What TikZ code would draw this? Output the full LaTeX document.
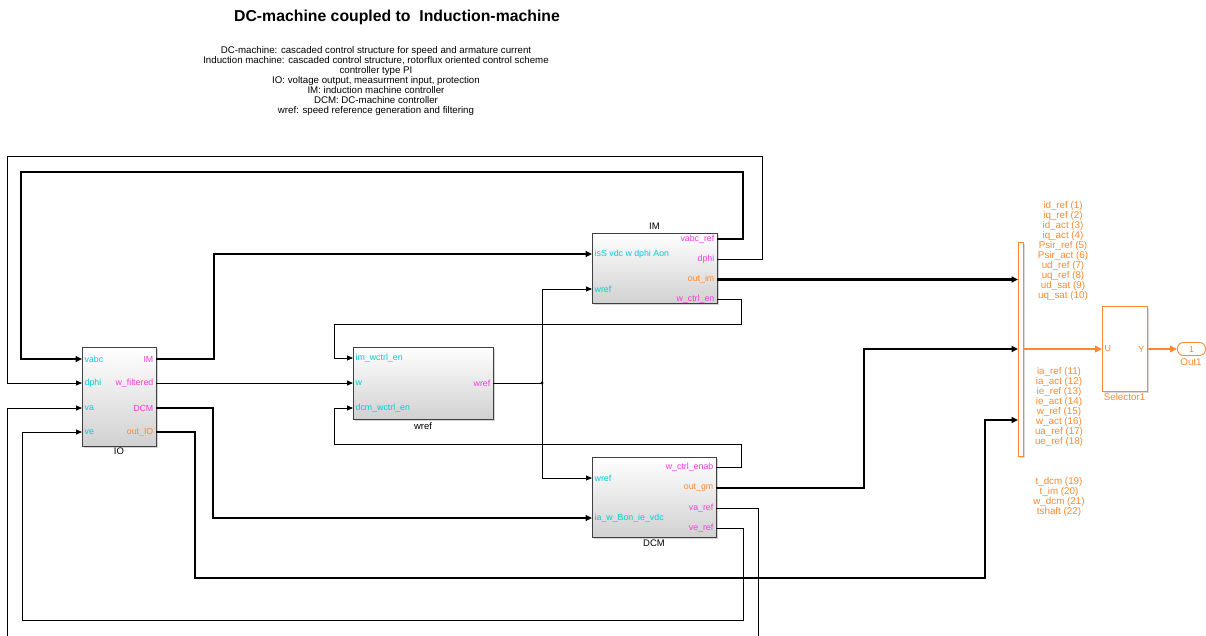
\documentclass[tikz,border=0pt]{standalone}
\usepackage{fontspec}
\setmainfont{Liberation Sans}
\usetikzlibrary{arrows.meta,shadows}
\definecolor{pcyan}{RGB}{0,205,215}
\definecolor{pmag}{RGB}{245,60,215}
\definecolor{porange}{RGB}{255,135,45}
\tikzset{
  blk/.style={draw=black!75, line width=0.9pt, top color=white, bottom color=black!18,
    drop shadow={shadow xshift=2pt, shadow yshift=-2pt, opacity=0.35},
    anchor=north west, inner sep=0pt, outer sep=0pt},
  oblk/.style={draw=porange, line width=0.9pt, fill=white,
    drop shadow={shadow xshift=2pt, shadow yshift=-2pt, opacity=0.3},
    anchor=north west, inner sep=0pt, outer sep=0pt},
  portfont/.style={font=\fontsize{8.8}{10}\selectfont, inner sep=2.5pt},
  inl/.style={portfont, text=pcyan, anchor=west},
  outl/.style={portfont, text=pmag, anchor=east},
  outo/.style={portfont, text=porange, anchor=east},
  blabel/.style={font=\fontsize{9.5}{10}\selectfont, anchor=north, inner sep=0pt},
  olabel/.style={font=\fontsize{9.8}{10}\selectfont, text=porange, anchor=north, inner sep=0pt, align=center},
  sig/.style={line width=0.8pt, -{Triangle[length=6pt,width=5pt]}},
  wire/.style={line width=0.8pt},
  bus/.style={line width=2.7pt, -{Triangle[length=6.5pt,width=6pt]}},
  obus/.style={line width=2.2pt, draw=porange, -{Triangle[length=7pt,width=6.5pt]}, color=porange},
}
\begin{document}
\begin{tikzpicture}[x=1pt,y=-1pt]
\useasboundingbox (0,0) rectangle (1206,636);
\clip (0,0) rectangle (1206,636);

% title and description
\node[font=\bfseries\fontsize{15.8}{17}\selectfont, inner sep=0pt] (title) at (397,17) {DC-machine coupled to\ \ Induction-machine};
\node[font=\fontsize{9.7}{10}\selectfont, align=center, anchor=north, inner sep=0pt] (desc) at (376,46) {DC-machine: cascaded control structure for speed and armature current\\
Induction machine: cascaded control structure, rotorflux oriented control scheme\\
controller type PI\\
IO: voltage output, measurment input, protection\\
IM: induction machine controller\\
DCM: DC-machine controller\\
wref: speed reference generation and filtering};

% blocks
\node[blk, minimum width=74pt, minimum height=99pt] (IO) at (82,347) {};
\node[blabel] (IOlab) at (119,448) {IO};
\node[blk, minimum width=140pt, minimum height=72pt] (WR) at (353,347) {};
\node[blabel] (WRlab) at (423,422) {wref};
\node[blk, minimum width=125pt, minimum height=70pt] (IM) at (592,233) {};
\node[blabel, anchor=south] (IMlab) at (654.5,230) {IM};
\node[blk, minimum width=124pt, minimum height=80pt] (DCM) at (592,457) {};
\node[blabel] (DCMlab) at (654,540) {DCM};

% ports IO
\coordinate (IOi1) at (82,359); \coordinate (IOi2) at (82,383);
\coordinate (IOi3) at (82,408); \coordinate (IOi4) at (82,432);
\coordinate (IOo1) at (156,359); \coordinate (IOo2) at (156,383);
\coordinate (IOo3) at (156,408); \coordinate (IOo4) at (156,432);
\node[inl] at (IOi1) {vabc}; \node[inl] at (IOi2) {dphi};
\node[inl] at (IOi3) {va}; \node[inl] at (IOi4) {ve};
\node[outl] at (IOo1) {IM}; \node[outl] at (IOo2) {w\_filtered};
\node[outl] at (IOo3) {DCM}; \node[outo] at (IOo4) {out\_IO};

% ports wref
\coordinate (WRi1) at (353,358); \coordinate (WRi2) at (353,383);
\coordinate (WRi3) at (353,408); \coordinate (WRo1) at (493,383);
\node[inl] at (WRi1) {im\_wctrl\_en}; \node[inl] at (WRi2) {w};
\node[inl] at (WRi3) {dcm\_wctrl\_en}; \node[outl] at (WRo1) {wref};

% ports IM
\coordinate (IMi1) at (592,254); \coordinate (IMi2) at (592,289);
\coordinate (IMo1) at (717,239); \coordinate (IMo2) at (717,259);
\coordinate (IMo3) at (717,279.5); \coordinate (IMo4) at (717,299);
\node[inl] at (IMi1) {isS vdc w dphi Aon}; \node[inl] at (IMi2) {wref};
\node[outl] at (IMo1) {vabc\_ref}; \node[outl] at (IMo2) {dphi};
\node[outo] at (IMo3) {out\_im}; \node[outl] at (IMo4) {w\_ctrl\_en};

% ports DCM
\coordinate (DCMi1) at (592,478); \coordinate (DCMi2) at (592,518);
\coordinate (DCMo1) at (716,467); \coordinate (DCMo2) at (716,488);
\coordinate (DCMo3) at (716,508); \coordinate (DCMo4) at (716,528);
\node[inl] at (DCMi1) {wref}; \node[inl] at (DCMi2) {ia\_w\_Bon\_ie\_vdc};
\node[outl] at (DCMo1) {w\_ctrl\_enab}; \node[outo] at (DCMo2) {out\_gm};
\node[outl] at (DCMo3) {va\_ref}; \node[outl] at (DCMo4) {ve\_ref};

% mux, selector, outport
\node[oblk, minimum width=5pt, minimum height=214pt] (MUX) at (1018,242) {};
\coordinate (MUXi1) at (1018,279.5); \coordinate (MUXi2) at (1018,349);
\coordinate (MUXi3) at (1018,420); \coordinate (MUXo) at (1023,349);
\node[oblk, minimum width=45pt, minimum height=85pt] (SEL) at (1102,306) {};
\coordinate (SELi) at (1102,349); \coordinate (SELo) at (1147,349);
\node[portfont, text=porange, anchor=west] at (SELi) {U};
\node[portfont, text=porange, anchor=east] at (SELo) {Y};
\node[olabel] (SELlab) at (1124.5,393) {Selector1};
\node[draw=porange, line width=0.9pt, fill=white, rounded corners=6pt, minimum width=28pt, minimum height=13pt,
  inner sep=0pt, anchor=west, text=porange, font=\fontsize{8.8}{10}\selectfont] (OUT) at (1177,349) {1};
\node[olabel] (OUTlab) at (1191,358) {Out1};

\node[olabel] (g1) at (1063,201.5) {id\_ref (1)\\iq\_ref (2)\\id\_act (3)\\iq\_act (4)\\Psir\_ref (5)\\Psir\_act (6)\\ud\_ref (7)\\uq\_ref (8)\\ud\_sat (9)\\uq\_sat (10)};
\node[olabel] (g2) at (1059,367.5) {ia\_ref (11)\\ia\_act (12)\\ie\_ref (13)\\ie\_act (14)\\w\_ref (15)\\w\_act (16)\\ua\_ref (17)\\ue\_ref (18)};
\node[olabel] (g3) at (1059,477.5) {t\_dcm (19)\\t\_im (20)\\w\_dcm (21)\\tshaft (22)};

% wires
\draw[bus] (IMo1) -| (743,172) -| (21,359) -- (IOi1);
\draw[sig] (IMo2) -| (762,156) -| (7,383) -- (IOi2);
\draw[bus] (IOo1) -| (214,254) -- (IMi1);
\draw[sig] (IOo2) -- (WRi2);
\draw[wire] (WRo1) -- (542,383) coordinate (J);
\fill (J) circle (1.6pt);
\draw[sig] (J) |- (IMi2);
\draw[sig] (J) |- (DCMi1);
\draw[sig] (IMo4) -| (741,324) -| (334,358) -- (WRi1);
\draw[sig] (DCMo1) -| (741,444) -| (334,408) -- (WRi3);
\draw[bus] (IOo3) -| (213,518) -- (DCMi2);
\draw[bus] (IOo4) -| (195,578) -| (985,420) -- (MUXi3);
\draw[bus] (IMo3) -- (MUXi1);
\draw[bus] (DCMo2) -| (864,349) -- (MUXi2);
\draw[sig] (DCMo3) -| (758,660) -| (7,408) -- (IOi3);
\draw[sig] (DCMo4) -| (743,620) -| (22,432) -- (IOi4);
\draw[obus] (MUXo) -- (SELi);
\draw[obus] (SELo) -- (OUT.west);
\end{tikzpicture}
\end{document}
